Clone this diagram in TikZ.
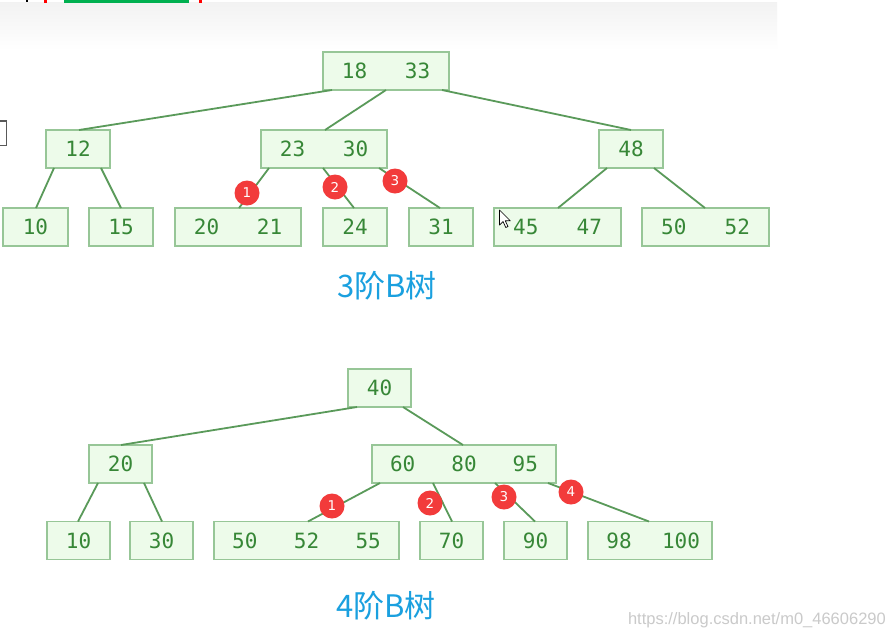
\documentclass[tikz,border=0pt]{standalone}
\usepackage{fontspec}
\usetikzlibrary{calc}
\newfontfamily\monofnt{DejaVu Sans Mono}
\newfontfamily\cjkfnt{Noto Sans CJK SC}
\newfontfamily\wmfnt{Liberation Sans}
\newfontfamily\badgefnt{DejaVu Sans}
\definecolor{boxfill}{HTML}{EDFBEA}
\definecolor{boxline}{HTML}{97C697}
\definecolor{edgecol}{HTML}{5A9A5A}
\definecolor{keycol}{HTML}{378737}
\definecolor{badgecol}{HTML}{F23B3B}
\definecolor{titlecol}{HTML}{1AA0DF}
\definecolor{wmcol}{HTML}{CACACA}
\definecolor{bargreen}{HTML}{00B050}
\tikzset{
  bbox/.style={draw=boxline, fill=boxfill, line width=1.4pt, minimum height=38pt, inner sep=0pt, outer sep=0pt},
  key/.style={font=\monofnt\fontsize{21}{21}\selectfont, text=keycol, inner sep=0pt},
  edge/.style={draw=edgecol, line width=1.8pt},
  badge/.style={circle, fill=badgecol, minimum size=25pt, inner sep=0pt, text=white, font=\badgefnt\fontsize{13.5}{13.5}\selectfont},
  title/.style={font=\cjkfnt\fontsize{31}{31}\selectfont, text=titlecol, inner sep=0pt}
}
\begin{document}
\begin{tikzpicture}[x=1pt,y=-1pt]
\useasboundingbox (0,0) rectangle (896,638);
\fill[white] (0,0) rectangle (896,638);
% screenshot artefacts at the top
\shade[top color=black!5, bottom color=white] (0,2) rectangle (777,50);
\fill[bargreen] (64,0) rectangle (189,2.5);
\fill[red] (44,0) rectangle (46.5,3);
\fill[red] (199,0) rectangle (201.5,3);
\fill[black] (26,0) rectangle (28,2);
\draw[black!65, line width=1.6pt] (0,121) -- (6.5,121) -- (6.5,145.5) -- (0,145.5);

% ---------- 3-order B-tree ----------
\node[bbox, minimum width=126pt] (r) at (386,71) {};
\node[bbox, minimum width=64pt] (a12) at (78,149) {};
\node[bbox, minimum width=126pt] (a2330) at (324,149) {};
\node[bbox, minimum width=64pt] (a48) at (631,149) {};
\node[bbox, minimum width=65pt] (l10) at (35.5,227) {};
\node[bbox, minimum width=64pt] (l15) at (121,227) {};
\node[bbox, minimum width=126pt] (l2021) at (238,227) {};
\node[bbox, minimum width=64pt] (l24) at (355,227) {};
\node[bbox, minimum width=64pt] (l31) at (441,227) {};
\node[bbox, minimum width=127pt] (l4547) at (557.5,227) {};
\node[bbox, minimum width=127pt] (l5052) at (705.5,227) {};

\draw[edge] ([xshift=9pt]r.south west) -- ([xshift=33pt]a12.north west);
\draw[edge] ([xshift=63pt]r.south west) -- ([xshift=64pt]a2330.north west);
\draw[edge] ([xshift=119pt]r.south west) -- ([xshift=32pt]a48.north west);
\draw[edge] ([xshift=8pt]a12.south west) -- ([xshift=33pt]l10.north west);
\draw[edge] ([xshift=55pt]a12.south west) -- ([xshift=32pt]l15.north west);
\draw[edge] ([xshift=8pt]a2330.south west) -- ([xshift=64pt]l2021.north west);
\draw[edge] ([xshift=62pt]a2330.south west) -- ([xshift=31pt]l24.north west);
\draw[edge] ([xshift=118pt]a2330.south west) -- ([xshift=31pt]l31.north west);
\draw[edge] ([xshift=8pt]a48.south west) -- ([xshift=64pt]l4547.north west);
\draw[edge] ([xshift=55pt]a48.south west) -- ([xshift=63pt]l5052.north west);

\node[key] at ($(r.west)!0.25!(r.east)$) {18};
\node[key] at ($(r.west)!0.75!(r.east)$) {33};
\node[key] at (a12) {12};
\node[key] at ($(a2330.west)!0.25!(a2330.east)$) {23};
\node[key] at ($(a2330.west)!0.75!(a2330.east)$) {30};
\node[key] at (a48) {48};
\node[key] at (l10) {10};
\node[key] at (l15) {15};
\node[key] at ($(l2021.west)!0.25!(l2021.east)$) {20};
\node[key] at ($(l2021.west)!0.75!(l2021.east)$) {21};
\node[key] at (l24) {24};
\node[key] at (l31) {31};
\node[key] at ($(l4547.west)!0.25!(l4547.east)$) {45};
\node[key] at ($(l4547.west)!0.75!(l4547.east)$) {47};
\node[key] at ($(l5052.west)!0.25!(l5052.east)$) {50};
\node[key] at ($(l5052.west)!0.75!(l5052.east)$) {52};

\node[badge] (t1) at (247,193) {1};
\node[badge] (t2) at (335,187) {2};
\node[badge] (t3) at (395,181) {3};

\node[title] (title3) at (387,286) {3阶B树};

% mouse cursor
\draw[black, fill=white, line width=0.7pt, line join=round] (499.5,210) -- (499.5,225) -- (503,221.5) -- (505.8,227.5) -- (508,226.5) -- (505.3,220.8) -- (510.3,220.8) -- cycle;

% ---------- 4-order B-tree ----------
\node[bbox, minimum width=63pt] (R) at (379.5,388) {};
\node[bbox, minimum width=63pt] (b20) at (120.5,464) {};
\node[bbox, minimum width=184pt] (b6) at (464,464) {};
\node[bbox, minimum width=63pt] (m10) at (78.5,540.5) {};
\node[bbox, minimum width=63pt] (m30) at (161.5,540.5) {};
\node[bbox, minimum width=185pt] (m50) at (306.5,540.5) {};
\node[bbox, minimum width=63pt] (m70) at (451.5,540.5) {};
\node[bbox, minimum width=63pt] (m90) at (535.5,540.5) {};
\node[bbox, minimum width=124pt] (m98) at (650,540.5) {};

\draw[edge] ([xshift=9pt]R.south west) -- ([xshift=32pt]b20.north west);
\draw[edge] ([xshift=55pt]R.south west) -- ([xshift=91pt]b6.north west);
\draw[edge] ([xshift=9pt]b20.south west) -- ([xshift=31pt]m10.north west);
\draw[edge] ([xshift=55pt]b20.south west) -- ([xshift=32pt]m30.north west);
\draw[edge] ([xshift=8pt]b6.south west) -- ([xshift=94pt]m50.north west);
\draw[edge] ([xshift=61pt]b6.south west) -- ([xshift=32pt]m70.north west);
\draw[edge] ([xshift=123pt]b6.south west) -- ([xshift=31pt]m90.north west);
\draw[edge] ([xshift=176pt]b6.south west) -- ([xshift=61pt]m98.north west);

\node[key] at (R) {40};
\node[key] at (b20) {20};
\node[key] at ($(b6.west)!0.1667!(b6.east)$) {60};
\node[key] at (b6) {80};
\node[key] at ($(b6.west)!0.8333!(b6.east)$) {95};
\node[key] at (m10) {10};
\node[key] at (m30) {30};
\node[key] at ($(m50.west)!0.1667!(m50.east)$) {50};
\node[key] at (m50) {52};
\node[key] at ($(m50.west)!0.8333!(m50.east)$) {55};
\node[key] at (m70) {70};
\node[key] at (m90) {90};
\node[key] at ($(m98.west)!0.25!(m98.east)$) {98};
\node[key] at ($(m98.west)!0.75!(m98.east)$) {100};

\node[badge] (u1) at (332,506) {1};
\node[badge] (u2) at (430,503) {2};
\node[badge] (u3) at (504,497) {3};
\node[badge] (u4) at (571,492) {4};

\node[title] (title4) at (386,606) {4阶B树};

\node[font=\wmfnt\fontsize{16.5}{16.5}\selectfont, text=wmcol, anchor=east, inner sep=0pt] (wm) at (886,620) {https://blog.csdn.net/m0\_46606290};
\end{tikzpicture}
\end{document}
